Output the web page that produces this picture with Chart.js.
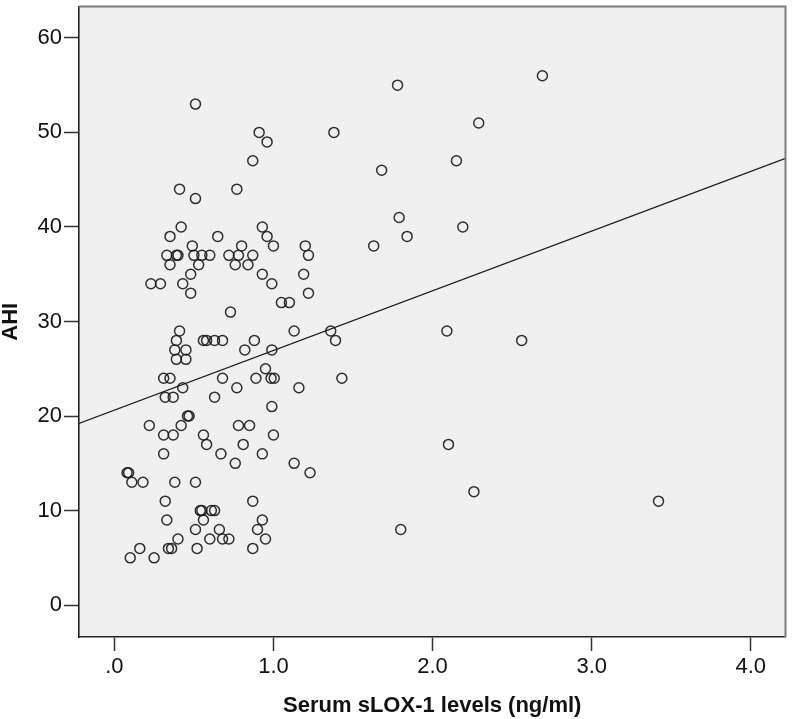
<!DOCTYPE html>
<html>
<head>
<meta charset="utf-8">
<script src="https://cdn.jsdelivr.net/npm/chart.js@4.4.1/dist/chart.umd.min.js"></script>
<style>
  html, body { margin: 0; padding: 0; background: #fff; }
</style>
</head>
<body>
<canvas id="scatter" width="792" height="719"></canvas>
<script>
'use strict'

const ahiLevels = [56, 55, 53, 51, 50, 49, 47, 46, 44, 43, 41, 40, 39, 38, 37, 36, 35, 34, 33, 32, 31,
    29, 28, 27, 26, 25, 24, 23, 22, 21, 20, 19, 18, 17, 16, 15, 14, 13, 12, 11, 10, 9, 8, 7, 6, 5];
const sloxAtLevel = [
    [2.69], [1.78], [0.51], [2.29], [0.91, 1.38], [0.96], [0.87, 2.15], [1.68],
    [0.41, 0.77], [0.51], [1.79], [0.42, 0.93, 2.19], [0.35, 0.65, 0.96, 1.84],
    [0.49, 0.80, 1.00, 1.20, 1.63],
    [0.33, 0.39, 0.40, 0.50, 0.55, 0.60, 0.72, 0.78, 0.87, 1.22],
    [0.35, 0.53, 0.76, 0.84], [0.48, 0.93, 1.19], [0.23, 0.29, 0.43, 0.99],
    [0.48, 1.22], [1.05, 1.10], [0.73],
    [0.41, 1.13, 1.36, 2.09], [0.39, 0.56, 0.58, 0.63, 0.68, 0.88, 1.39, 2.56],
    [0.38, 0.45, 0.82, 0.99], [0.39, 0.45], [0.95],
    [0.31, 0.35, 0.68, 0.89, 0.985, 1.005, 1.43], [0.43, 0.77, 1.16], [0.32, 0.37, 0.63],
    [0.99], [0.46, 0.47], [0.22, 0.42, 0.78, 0.85], [0.31, 0.37, 0.56, 1.00],
    [0.58, 0.81, 2.10], [0.31, 0.67, 0.93], [0.76, 1.13], [0.08, 0.09, 1.23],
    [0.11, 0.18, 0.38, 0.51], [2.26], [0.32, 0.87, 3.42], [0.54, 0.55, 0.61, 0.63],
    [0.33, 0.56, 0.93], [0.51, 0.66, 0.90, 1.80], [0.40, 0.60, 0.68, 0.72, 0.95],
    [0.16, 0.34, 0.36, 0.52, 0.87], [0.10, 0.25]
];

const xTicks = [0, 1, 2, 3, 4];
const yTicks = [0, 10, 20, 30, 40, 50, 60];
const xRange = [-0.222, 4.218];
const yRange = [-3.37, 63.32];

const points = [];
ahiLevels.forEach((ahi, i) => {
    sloxAtLevel[i].forEach(slox => points.push({x: slox, y: ahi}));
});

// least squares fit line, as SPSS draws it
function fitLine(data) {
    const n = data.length;
    const mx = data.reduce((s, p) => s + p.x, 0) / n;
    const my = data.reduce((s, p) => s + p.y, 0) / n;
    let sxy = 0, sxx = 0;
    data.forEach(p => {
        sxy += (p.x - mx) * (p.y - my);
        sxx += (p.x - mx) * (p.x - mx);
    });
    const slope = sxy / sxx;
    return {slope, intercept: my - slope * mx};
}

const fit = fitLine(points);
const fitPoints = xRange.map(x => ({x, y: fit.intercept + fit.slope * x}));

Chart.defaults.font.family = "'Liberation Sans', Arial, sans-serif";
Chart.defaults.color = '#111';

const plotFrame = {
    id: 'plotFrame',
    beforeDraw(chart) {
        const {ctx, chartArea: a} = chart;
        ctx.save();
        ctx.fillStyle = '#f0f0f0';
        ctx.fillRect(a.left, a.top, a.right - a.left, a.bottom - a.top);
        ctx.restore();
    },
    afterDraw(chart) {
        const {ctx, chartArea: a} = chart;
        ctx.save();
        ctx.strokeStyle = '#7a7a7a';
        ctx.lineWidth = 2;
        ctx.beginPath();
        ctx.moveTo(a.left, a.top);
        ctx.lineTo(a.right, a.top);
        ctx.lineTo(a.right, a.bottom);
        ctx.stroke();
        ctx.restore();
    }
};

new Chart(document.getElementById('scatter'), {
    type: 'scatter',
    data: {
        datasets: [{
            data: points,
            pointStyle: 'circle',
            pointRadius: 5,
            pointBorderWidth: 1.5,
            borderColor: 'rgba(25,25,25,0.9)',
            backgroundColor: 'rgba(0,0,0,0)',
            pointHoverRadius: 5
        }, {
            type: 'line',
            data: fitPoints,
            showLine: true,
            pointRadius: 0,
            borderColor: '#222',
            borderWidth: 1.3,
            fill: false
        }]
    },
    options: {
        responsive: false,
        animation: false,
        devicePixelRatio: 1,
        layout: {padding: {top: 4, right: 5, left: 0, bottom: 0}},
        plugins: {legend: {display: false}, tooltip: {enabled: false}},
        scales: {
            x: {
                type: 'linear',
                min: xRange[0],
                max: xRange[1],
                afterBuildTicks: scale => { scale.ticks = xTicks.map(v => ({value: v})); },
                afterFit: scale => {
                    scale.height = 82;
                    scale.paddingLeft = 0;
                    scale.paddingRight = 0;
                },
                ticks: {
                    font: {size: 22},
                    padding: 3,
                    maxRotation: 0,
                    callback: v => v === 0 ? '.0' : v.toFixed(1)
                },
                grid: {drawOnChartArea: false, tickLength: 14, tickColor: '#333', tickWidth: 1.5},
                border: {display: true, color: '#222', width: 1.6},
                title: {
                    display: true,
                    text: 'Serum sLOX-1 levels (ng/ml)',
                    font: {size: 22, weight: 'bold'},
                    padding: {top: 0, bottom: 0}
                }
            },
            y: {
                type: 'linear',
                min: yRange[0],
                max: yRange[1],
                afterBuildTicks: scale => { scale.ticks = yTicks.map(v => ({value: v})); },
                afterFit: scale => {
                    scale.width = 79;
                    scale.paddingTop = 0;
                    scale.paddingBottom = 0;
                },
                ticks: {font: {size: 22}, padding: 2},
                grid: {drawOnChartArea: false, tickLength: 15, tickColor: '#333', tickWidth: 1.5},
                border: {display: true, color: '#222', width: 1.6},
                title: {
                    display: true,
                    text: 'AHI',
                    font: {size: 22, weight: 'bold', lineHeight: 1},
                    padding: {top: 0, bottom: 0}
                }
            }
        }
    },
    plugins: [plotFrame]
});
</script>
</body>
</html>
